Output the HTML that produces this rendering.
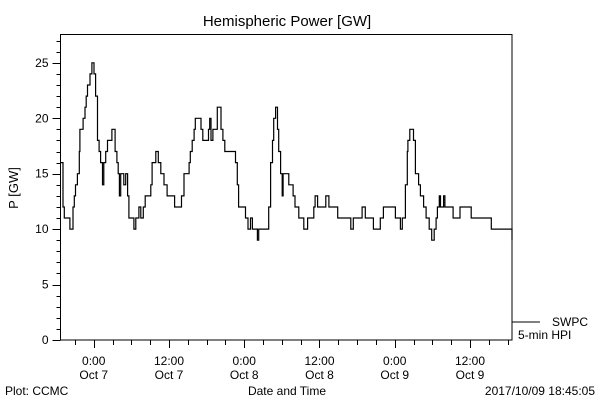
<!DOCTYPE html>
<html><head><meta charset="utf-8"><style>
body{margin:0;background:#fff;}
svg{display:block;font-family:"Liberation Sans",sans-serif;}
</style></head><body>
<svg id="chart" width="600" height="400" viewBox="0 0 600 400">
<rect x="0" y="0" width="600" height="400" fill="#fff"/>
<text x="287" y="26" font-size="15" text-anchor="middle">Hemispheric Power [GW]</text>
<text x="18" y="188" font-size="13" text-anchor="middle" transform="rotate(-90 18 188)">P [GW]</text>
<rect x="60.5" y="34.5" width="451.5" height="305.5" fill="none" stroke="#000" stroke-width="1"/>
<g id="yticks"></g>
<g id="xticks"></g>
<path id="series" fill="none" stroke="#000" stroke-width="1.2"/>
<line x1="512" y1="322" x2="540" y2="322" stroke="#000"/>
<text x="552" y="326" font-size="12">SWPC</text>
<text x="518" y="339" font-size="12">5-min HPI</text>
<text x="287" y="395" font-size="12" text-anchor="middle">Date and Time</text>
<text x="5" y="395" font-size="12">Plot: CCMC</text>
<text x="595" y="395" font-size="12" text-anchor="end">2017/10/09 18:45:05</text>
</svg>
<script>
const times=[-5.3,-4.9,-4.7,-4.5,-3.8,-3.3,-3.1,-2.9,-2.6,-2.3,-2.2,-2.0,-1.7,-1.4,-1.2,-1.0,-0.6,-0.3,0.05,0.3,0.6,0.85,1.1,1.4,1.6,1.9,2.2,2.9,3.4,3.7,3.9,4.1,4.3,4.8,5.1,5.4,5.6,6.4,6.7,7.2,7.5,7.9,8.2,9.1,9.3,9.9,10.3,10.7,11.2,11.7,12.9,14.0,14.4,15.2,15.4,15.7,16.0,16.2,17.1,17.4,18.3,18.5,18.7,19.0,19.7,20.3,20.6,20.9,22.6,22.9,23.1,23.7,24.2,24.6,25.0,25.3,26.1,26.3,27.5,27.9,28.2,28.5,28.7,29.0,29.3,29.5,29.8,30.05,30.2,31.1,31.8,32.1,32.7,33.5,34.1,35.1,35.3,35.7,37.0,37.5,38.9,41.0,41.4,42.8,43.3,44.6,45.7,46.2,48.1,48.9,49.2,49.7,50.0,50.1,50.4,51.0,51.3,51.8,52.1,52.6,53.0,53.5,53.9,54.3,54.6,54.8,55.1,55.3,55.8,56.0,57.3,58.4,60.2,63.4,66.7];
const values=[16,12,11,11,10,12,13,14,15,17,19,19,20,21,22,23,24,25,24,22,18,17,16,14,16,17,18,19,17,16,15,13,15,14,15,13,11,10,11,12,11,12,13,14,16,17,16,15,14,13,12,13,15,16,17,18,19,20,19,18,19,20,18,19,21,19,18,17,16,14,12,12,11,10,11,10,9,10,10,12,16,18,20,21,19,17,15,13,15,14,13,12,11,10,11,12,13,12,13,12,11,10,11,12,11,10,11,12,11,10,11,14,17,18,19,18,15,14,13,12,11,10,9,10,11,12,13,12,13,12,11,12,11,10,9,10,10];
const yTickLabels=["0","5","10","15","20","25"];
const yTickValues=[0,5,10,15,20,25];
const xTickHours=[0,12,24,36,48,60];
const xTickTimes=["0:00","12:00","0:00","12:00","0:00","12:00"];
const xTickDates=["Oct 7","Oct 7","Oct 8","Oct 8","Oct 9","Oct 9"];
const X0=60.5,X1=512,Y0=340,Y1=34;
const HMIN=-5.3,HMAX=66.7,VMIN=0,VMAX=27.6;
function xs(h){return X0+(h-HMIN)/(HMAX-HMIN)*(X1-X0);}
function ys(v){return Y0-(v-VMIN)/(VMAX-VMIN)*(Y0-Y1);}
const NS="http://www.w3.org/2000/svg";
const yg=document.getElementById('yticks');
for(let v=0;v<=27;v++){
  const l=document.createElementNS(NS,'line');
  const major=v%5===0;
  l.setAttribute('x1',X0);l.setAttribute('x2',X0-(major?8:4));
  l.setAttribute('y1',Math.round(ys(v))+0.5);l.setAttribute('y2',Math.round(ys(v))+0.5);
  l.setAttribute('stroke','#000');
  
  
  yg.appendChild(l);
}
yTickValues.forEach((v,i)=>{
  const t=document.createElementNS(NS,'text');
  t.setAttribute('x',X0-12);t.setAttribute('y',ys(v)+4);
  t.setAttribute('font-size','12');t.setAttribute('text-anchor','end');
  t.textContent=yTickLabels[i];
  
  
  yg.appendChild(t);
});
const xg=document.getElementById('xticks');
for(let h=-3;h<=66;h+=3){
  const l=document.createElementNS(NS,'line');
  const major=h%12===0;
  const x=Math.round(xs(h))+0.5;
  l.setAttribute('x1',x);l.setAttribute('x2',x);
  l.setAttribute('y1',Y0);l.setAttribute('y2',Y0+(major?8:5));
  l.setAttribute('stroke','#000');
  
  
  xg.appendChild(l);
}
xTickHours.forEach((h,i)=>{
  const t=document.createElementNS(NS,'text');
  t.setAttribute('x',xs(h));t.setAttribute('y',365);
  t.setAttribute('font-size','12');t.setAttribute('text-anchor','middle');
  t.textContent=xTickTimes[i];
  
  
  xg.appendChild(t);
  const d=document.createElementNS(NS,'text');
  d.setAttribute('x',xs(h));d.setAttribute('y',379);
  d.setAttribute('font-size','12');d.setAttribute('text-anchor','middle');
  d.textContent=xTickDates[i];
  
  
  xg.appendChild(d);
});
let p='';
for(let i=0;i<times.length;i++){
  const x=xs(times[i]).toFixed(1), y=ys(values[i]).toFixed(1);
  if(i===0)p+='M'+x+' '+y;
  else p+=' H'+x+' V'+y;
}
document.getElementById('series').setAttribute('d',p);
</script>
</body></html>
